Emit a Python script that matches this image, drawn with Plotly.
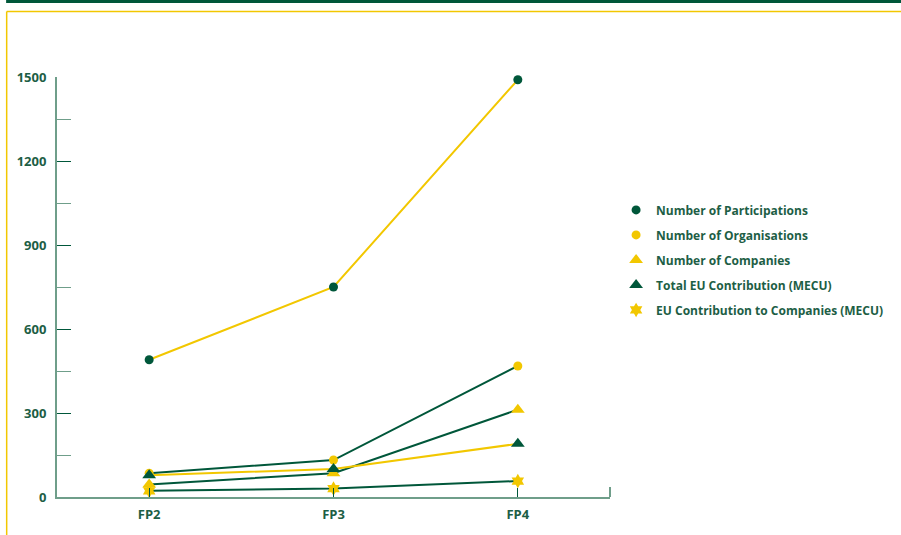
import plotly.graph_objects as go

# Framework programmes on the horizontal axis
programmes = ["FP2", "FP3", "FP4"]

# Series values per programme
participations = [490, 750, 1490]
organisations = [85, 132, 468]
companies = [45, 85, 312]
total_eu_contribution = [78, 100, 190]
eu_contribution_companies = [22, 30, 57]

y_ticks = [0, 300, 600, 900, 1200, 1500]

GREEN = "#00573a"
YELLOW = "#f2c700"
TEXT = "#1d5e45"
AXIS = "#6f9e8a"
FONT = "Open Sans"

# (name, values, line colour, marker colour, marker symbol, marker size)
series = [
    ("Number of Participations", participations, YELLOW, GREEN, "circle", 9),
    ("Number of Organisations", organisations, GREEN, YELLOW, "circle", 9),
    ("Number of Companies", companies, GREEN, YELLOW, "triangle-up", 12),
    ("Total EU Contribution (MECU)", total_eu_contribution, YELLOW, GREEN, "triangle-up", 12),
    ("EU Contribution to Companies (MECU)", eu_contribution_companies, GREEN, YELLOW, "hexagram", 11),
]

fig = go.Figure()

# connecting lines first, underneath all markers
for name, vals, lcol, mcol, sym, size in series:
    fig.add_trace(go.Scatter(
        x=programmes, y=vals, mode="lines",
        line=dict(color=lcol, width=2),
        showlegend=False, hoverinfo="skip", cliponaxis=False,
    ))

for i, (name, vals, lcol, mcol, sym, size) in enumerate(series):
    fig.add_trace(go.Scatter(
        x=programmes, y=vals, mode="markers", name=name,
        marker=dict(color=mcol, symbol=sym, size=size, line=dict(width=0)),
        legendgroup=f"g{i}", cliponaxis=False,
    ))

fig.update_layout(
    width=901, height=535,
    margin=dict(l=57, r=289, t=77, b=38),
    paper_bgcolor="white", plot_bgcolor="white",
    font=dict(family=FONT, size=12, color=TEXT, weight="bold"),
    showlegend=True,
    legend=dict(
        x=1.011, y=0.718, xanchor="left", yanchor="top",
        font=dict(family=FONT, size=12, color=TEXT, weight="bold"),
        itemsizing="trace", tracegroupgap=6, bgcolor="rgba(0,0,0,0)",
    ),
    xaxis=dict(
        type="category", range=[-0.5, 2.5],
        showgrid=False, zeroline=False,
        showline=True, linecolor=AXIS, linewidth=2,
        ticks="inside", ticklen=9, tickcolor=GREEN, tickwidth=1,
        tickfont=dict(family=FONT, size=13, color=TEXT, weight="bold"),
        ticklabelstandoff=4,
    ),
    yaxis=dict(
        range=[0, 1500], tickvals=y_ticks,
        showgrid=False, zeroline=False,
        showline=True, linecolor=AXIS, linewidth=2,
        ticks="inside", ticklen=14, tickcolor=GREEN, tickwidth=1,
        minor=dict(dtick=150, ticks="inside", ticklen=14, tickcolor=AXIS, tickwidth=1, showgrid=False),
        tickfont=dict(family=FONT, size=13, color=TEXT, weight="bold"),
        ticklabelstandoff=6,
    ),
    shapes=[
        # dark green band along the top edge
        dict(type="rect", xref="paper", yref="paper", x0=-0.092, x1=1.53, y0=1.176, y1=1.19,
             fillcolor=GREEN, line=dict(width=0), layer="below"),
        # thin yellow frame: top and left edges
        dict(type="line", xref="paper", yref="paper", x0=-0.0910, x1=1.53, y0=1.156, y1=1.156,
             line=dict(color=YELLOW, width=1.5)),
        dict(type="line", xref="paper", yref="paper", x0=-0.0910, x1=-0.0910, y0=1.156, y1=-0.1,
             line=dict(color=YELLOW, width=1.5)),
        # closing tick at the right end of the horizontal axis
        dict(type="line", xref="paper", yref="paper", x0=1.0, x1=1.0, y0=0, y1=0.024,
             line=dict(color=AXIS, width=2)),
    ],
)

fig.write_html("out.html")
